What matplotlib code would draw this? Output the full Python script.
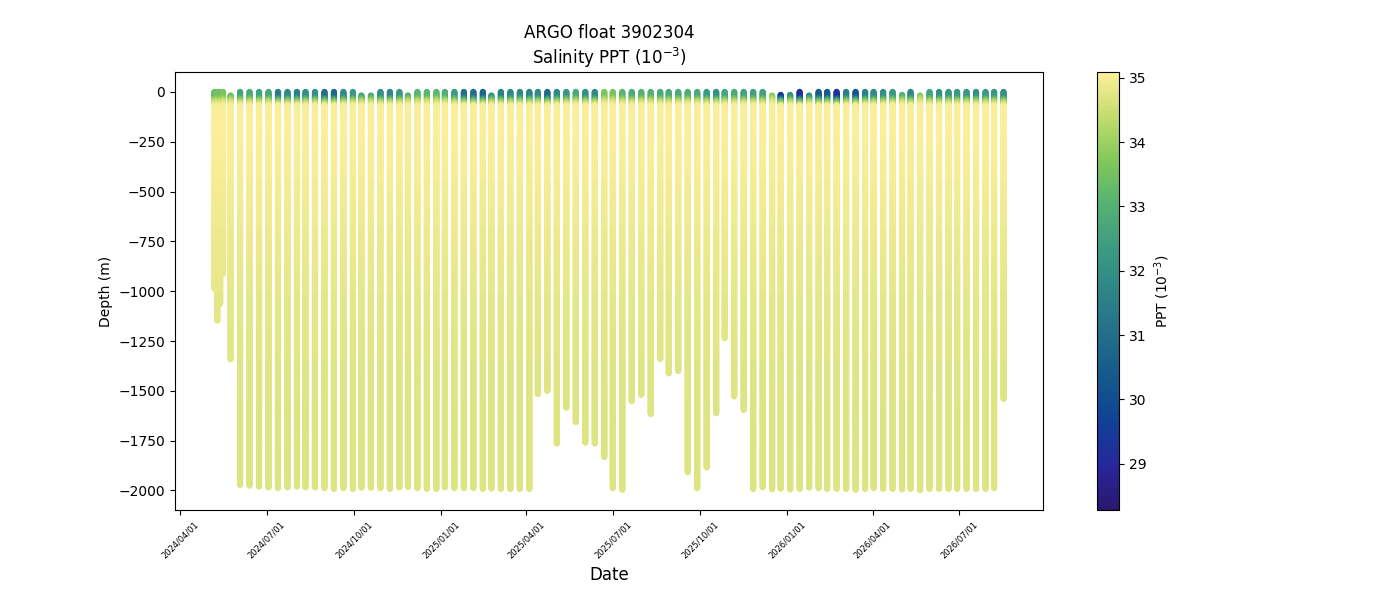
import numpy as np
import pandas as pd
import matplotlib
matplotlib.use("Agg")
import matplotlib.pyplot as plt
import matplotlib.dates as mdates
from matplotlib.colors import LinearSegmentedColormap

# one entry per ARGO cycle (the first four are the short test dives)
dates = [
    "2024-05-07", "2024-05-10", "2024-05-13", "2024-05-16", "2024-05-24",
    "2024-06-03", "2024-06-13", "2024-06-23", "2024-07-03", "2024-07-13",
    "2024-07-23", "2024-08-02", "2024-08-11", "2024-08-21", "2024-08-31",
    "2024-09-10", "2024-09-20", "2024-09-30", "2024-10-09", "2024-10-19",
    "2024-10-29", "2024-11-08", "2024-11-18", "2024-11-27", "2024-12-07",
    "2024-12-17", "2024-12-27", "2025-01-05", "2025-01-15", "2025-01-25",
    "2025-02-04", "2025-02-14", "2025-02-23", "2025-03-05", "2025-03-15",
    "2025-03-25", "2025-04-04", "2025-04-13", "2025-04-23", "2025-05-03",
    "2025-05-13", "2025-05-23", "2025-06-02", "2025-06-12", "2025-06-22",
    "2025-07-01", "2025-07-11", "2025-07-21", "2025-07-31", "2025-08-10",
    "2025-08-20", "2025-08-29", "2025-09-08", "2025-09-18", "2025-09-28",
    "2025-10-08", "2025-10-18", "2025-10-27", "2025-11-06", "2025-11-16",
    "2025-11-26", "2025-12-06", "2025-12-16", "2025-12-25", "2026-01-04",
    "2026-01-14", "2026-01-24", "2026-02-03", "2026-02-12", "2026-02-22",
    "2026-03-04", "2026-03-14", "2026-03-24", "2026-04-02", "2026-04-12",
    "2026-04-22", "2026-05-02", "2026-05-11", "2026-05-21", "2026-05-31",
    "2026-06-10", "2026-06-20", "2026-06-29", "2026-07-09", "2026-07-19",
    "2026-07-29", "2026-08-07", "2026-08-17",
]

# deepest measurement of each profile (m)
max_depth = [
    990, 1150, 1065, 915, 1345,
    1975, 1978, 1980, 1985, 1988, 1985, 1980, 1985, 1985, 1988,
    1992, 1988, 1992, 1988, 1988, 1988, 1992, 1985, 1985, 1988,
    1992, 1992, 1985, 1988, 1988, 1988, 1992, 1992, 1992, 1992,
    1992, 1992, 1516, 1503, 1767, 1586, 1657, 1763, 1767, 1835,
    1990, 1998, 1553, 1523, 1616, 1342, 1415, 1402, 1911, 1988,
    1884, 1613, 1238, 1529, 1596, 1992, 1985, 1995, 1992, 1995,
    1992, 1988, 1988, 1992, 1995, 1995, 1998, 1992, 1988, 1992,
    1992, 1995, 1995, 2000, 1992, 1992, 1992, 1995, 1992, 1992,
    1995, 1988, 1543,
]

# first (shallowest) measurement of each profile (m)
start_depth = [
    0, 0, 0, 0, 18,
    0, 0, 0, 0, 0, 0, 0, 0, 0, 0,
    0, 0, 0, 18, 18, 0, 0, 0, 18, 0,
    0, 0, 0, 0, 0, 0, 0, 18, 0, 0,
    0, 0, 0, 0, 0, 0, 0, 0, 0, 0,
    0, 0, 0, 0, 0, 0, 0, 0, 0, 0,
    0, 0, 0, 0, 0, 0, 0, 18, 15, 15,
    0, 18, 0, 0, 0, 0, 0, 0, 0, 0,
    0, 15, 0, 18, 0, 0, 0, 0, 0, 0,
    0, 0, 0,
]

# salinity of the surface layer of each profile (PPT)
surf_sal = [
    33.3, 33.5, 33.4, 33.6, 33.4,
    32.6, 32.8, 32.5, 32.7, 31.4, 31.8, 31.5, 32.0, 32.0, 31.0,
    30.8, 31.8, 32.3, 32.6, 32.8, 32.0, 31.8, 32.3, 33.0, 33.1,
    33.1, 33.2, 32.9, 32.3, 31.0, 31.0, 30.8, 32.0, 31.5, 31.8,
    31.8, 31.7, 31.8, 30.9, 31.8, 32.3, 32.8, 32.0, 31.8, 33.6,
    33.6, 33.1, 32.8, 33.0, 33.0, 32.8, 32.8, 32.8, 32.9, 32.8,
    32.3, 32.0, 32.6, 32.8, 32.6, 32.5, 32.5, 33.8, 29.4, 32.0,
    29.2, 32.0, 30.5, 30.4, 29.2, 31.5, 30.3, 31.5, 31.8, 32.0,
    32.3, 33.0, 31.8, 33.8, 32.6, 32.0, 32.2, 32.2, 32.2, 32.0,
    32.3, 32.2, 32.0,
]

# water column below the surface layer (same for every profile)
deep_z = [0, 100, 200, 400, 700, 1000, 1500, 2000]
deep_s = [34.95, 35.05, 35.07, 35.0, 34.9, 34.8, 34.72, 34.7]
# how much of the surface value is left at each depth
mix_z = [0, 25, 45, 70]
mix_w = [1.0, 1.0, 0.4, 0.0]

# cmocean "haline" look-alike
haline_rgb = [(42, 24, 108), (40, 38, 155), (16, 65, 150), (20, 88, 140),
              (35, 110, 138), (45, 133, 135), (60, 155, 130), (85, 178, 115),
              (130, 200, 90), (195, 220, 110), (253, 239, 154)]
haline = LinearSegmentedColormap.from_list(
    "haline", [tuple(c / 255 for c in rgb) for rgb in haline_rgb])

xs, ys, cs = [], [], []
for d, zmax, z0, s0 in zip(dates, max_depth, start_depth, surf_sal):
    z = np.arange(z0, zmax + 1, 4.0)
    w = np.interp(z, mix_z, mix_w)
    s = w * s0 + (1 - w) * np.interp(z, deep_z, deep_s)
    xs.append(np.full(len(z), mdates.date2num(pd.Timestamp(d))))
    ys.append(-z)
    cs.append(s)
xs = np.concatenate(xs)
ys = np.concatenate(ys)
cs = np.concatenate(cs)

fig, ax = plt.subplots(figsize=(14, 6))
fig.subplots_adjust(bottom=0.15)
sc = ax.scatter(xs, ys, c=cs, s=20, cmap=haline, vmin=28.28, vmax=35.09,
                edgecolors="none")
cb = fig.colorbar(sc, ax=ax)
cb.set_label("PPT (10$^{-3}$)")

ax.set_title("ARGO float 3902304\nSalinity PPT (10$^{-3}$)")
ax.set_xlabel("Date", fontsize=12)
ax.set_ylabel("Depth (m)")
ax.xaxis.set_major_locator(mdates.MonthLocator(bymonth=[1, 4, 7, 10]))
ax.xaxis.set_major_formatter(mdates.DateFormatter("%Y/%m/%d"))
plt.setp(ax.get_xticklabels(), rotation=45, fontsize=6)

fig.savefig("out.png", dpi=100)
